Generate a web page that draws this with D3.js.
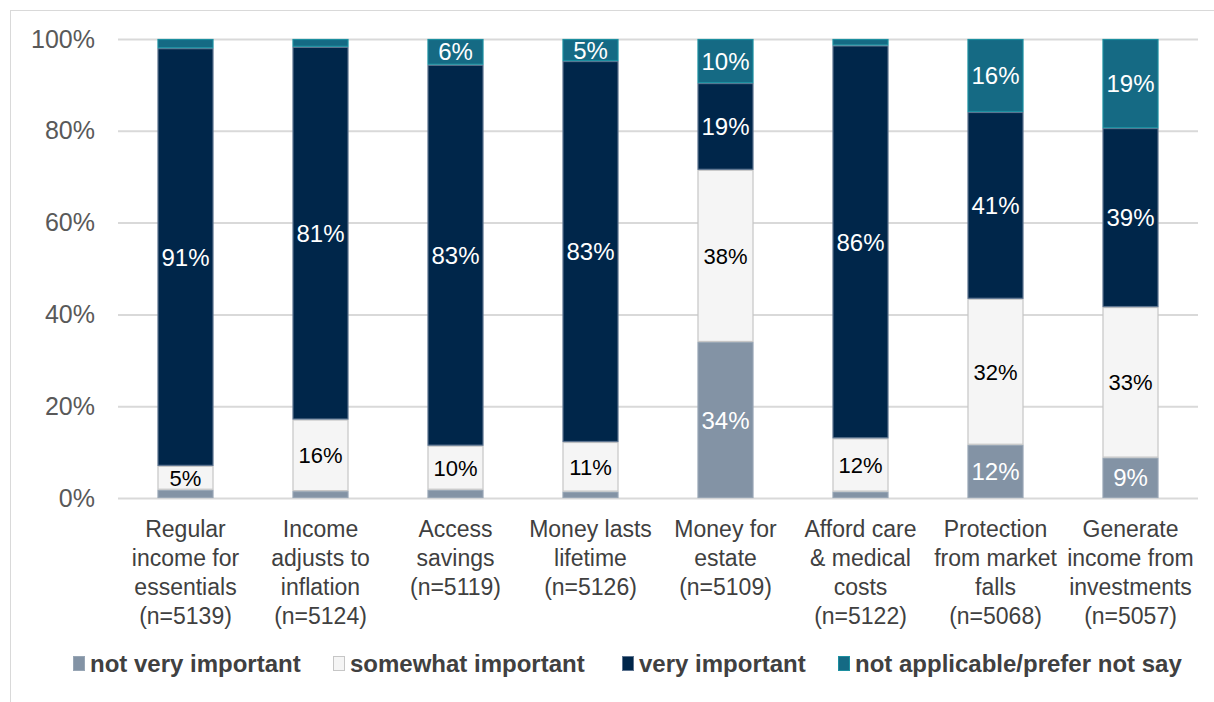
<!DOCTYPE html>
<html>
<head>
<meta charset="utf-8">
<script src="https://cdn.jsdelivr.net/npm/d3@7"></script>
<style>
  body { margin: 0; background: #fff; }
  svg { display: block; }
</style>
</head>
<body>
<script>
'use strict';

// categories, each one split into its label lines
const categories = [
  ['Regular', 'income for', 'essentials', '(n=5139)'],
  ['Income', 'adjusts to', 'inflation', '(n=5124)'],
  ['Access', 'savings', '(n=5119)'],
  ['Money lasts', 'lifetime', '(n=5126)'],
  ['Money for', 'estate', '(n=5109)'],
  ['Afford care', '& medical', 'costs', '(n=5122)'],
  ['Protection', 'from market', 'falls', '(n=5068)'],
  ['Generate', 'income from', 'investments', '(n=5057)']
];
const seriesNames = ['not very important', 'somewhat important', 'very important', 'not applicable/prefer not say'];
const notVery = [1.8, 1.5, 1.8, 1.4, 34.0, 1.4, 11.6, 8.8];
const somewhat = [5.2, 15.6, 9.6, 10.8, 37.5, 11.6, 31.8, 32.8];
const veryImp = [91.0, 81.2, 83.0, 83.0, 18.9, 85.6, 40.7, 39.0];
const notApplicable = [2.0, 1.7, 5.6, 4.8, 9.6, 1.4, 15.9, 19.4];
const yTicks = [0, 20, 40, 60, 80, 100];

const fills = ['#8393a5', '#f5f5f5', '#00264a', '#156a84'];
const strokes = ['#98a6b5', '#c6c6c6', '#5d7490', '#1c8fa0'];
const labelColors = ['#fff', '#000', '#fff', '#fff'];
const FONT = '"Liberation Sans", Arial, sans-serif';

const width = 1214, height = 702;
const margin = { top: 39, right: 16, bottom: 204, left: 118 };

const svg = d3.select('body').append('svg')
  .attr('width', width)
  .attr('height', height);

svg.append('rect')
  .attr('x', 10.5).attr('y', 10.5)
  .attr('width', width).attr('height', height)
  .attr('fill', 'none')
  .attr('stroke', '#d9d9d9');

const x = d3.scaleBand()
  .domain(d3.range(categories.length))
  .range([margin.left, width - margin.right])
  .paddingInner(0.585)
  .paddingOuter(0.2925);

const y = d3.scaleLinear()
  .domain([0, 100])
  .range([height - margin.bottom, margin.top]);

// gridlines + tick labels
const yAxis = svg.append('g')
  .attr('transform', `translate(${margin.left},0)`)
  .call(d3.axisLeft(y).tickValues(yTicks)
    .tickSize(-(width - margin.left - margin.right))
    .tickFormat((d) => d + '%')
    .tickPadding(23));
yAxis.select('.domain').remove();
yAxis.selectAll('.tick line').attr('stroke', '#d9d9d9').attr('stroke-width', 2);
yAxis.selectAll('.tick text')
  .attr('fill', '#595959')
  .style('font-family', FONT)
  .style('font-size', '25px');

const rows = d3.range(categories.length).map((i) => ({
  i, notVery: notVery[i], somewhat: somewhat[i], veryImp: veryImp[i], notApplicable: notApplicable[i]
}));
const keys = ['notVery', 'somewhat', 'veryImp', 'notApplicable'];
const stacked = d3.stack().keys(keys)(rows);

const layer = svg.append('g').selectAll('g')
  .data(stacked)
  .join('g');

layer.selectAll('rect')
  .data((s, k) => s.map((d) => ({ d, k })))
  .join('rect')
  .attr('x', (p) => x(p.d.data.i) + 0.5)
  .attr('width', x.bandwidth() - 1)
  .attr('y', (p) => y(p.d[1]) + 0.5)
  .attr('height', (p) => Math.max(0, y(p.d[0]) - y(p.d[1]) - 1))
  .attr('fill', (p) => fills[p.k])
  .attr('stroke', (p) => strokes[p.k])
  .attr('stroke-width', 1.2);

layer.selectAll('text')
  .data((s, k) => s.map((d) => ({ d, k })).filter((p) => p.d[1] - p.d[0] >= 4))
  .join('text')
  .attr('x', (p) => x(p.d.data.i) + x.bandwidth() / 2)
  .attr('y', (p) => y((p.d[0] + p.d[1]) / 2))
  .attr('dy', '0.36em')
  .attr('text-anchor', 'middle')
  .attr('fill', (p) => labelColors[p.k])
  .style('font-family', FONT)
  .style('font-size', (p) => p.k === 1 ? '22px' : '24px')
  .text((p) => Math.round(p.d[1] - p.d[0]) + '%');

// category labels
const cat = svg.append('g').selectAll('text')
  .data(categories)
  .join('text')
  .attr('x', (d, i) => x(i) + x.bandwidth() / 2)
  .attr('y', 537)
  .attr('text-anchor', 'middle')
  .attr('fill', '#404040')
  .style('font-family', FONT)
  .style('font-size', '23px');
cat.selectAll('tspan')
  .data((d) => d)
  .join('tspan')
  .attr('x', function () { return this.parentNode.getAttribute('x'); })
  .attr('dy', (d, j) => j === 0 ? 0 : 29)
  .text((d) => d);

// legend
const legendX = [73, 333, 622, 838];
const legend = svg.append('g').selectAll('g')
  .data(seriesNames)
  .join('g')
  .attr('transform', (d, i) => `translate(${legendX[i]},663)`);
legend.append('rect')
  .attr('x', 0.5).attr('y', -6.5)
  .attr('width', 11).attr('height', 14)
  .attr('fill', (d, i) => fills[i])
  .attr('stroke', (d, i) => strokes[i]);
legend.append('text')
  .attr('x', 17)
  .attr('dy', '0.36em')
  .attr('fill', '#404040')
  .style('font-family', FONT)
  .style('font-weight', 'bold')
  .style('font-size', '24px')
  .text((d) => d);
</script>
</body>
</html>
